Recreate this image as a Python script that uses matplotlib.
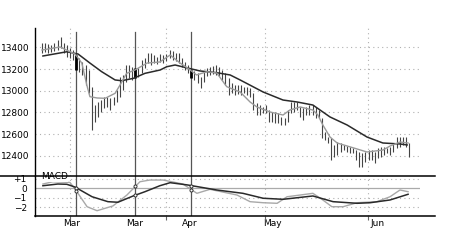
import matplotlib
matplotlib.use("Agg")
import matplotlib.pyplot as plt
from matplotlib.lines import Line2D
import numpy as np

plt.rcParams['font.family'] = ['DejaVu Sans']

# ---- data ----
highs = [13442, 13437, 13430, 13421, 13442, 13467, 13498, 13437, 13421, 13391,
         13375, 13329, 13299, 13267, 13237, 13191, 13037, 12868, 12899,
         12914, 12945, 12945, 12930, 12945, 13006, 13129, 13145, 13237,
         13237, 13221, 13206, 13206, 13283, 13299, 13345, 13347, 13329, 13311,
         13338, 13329, 13338, 13375, 13366, 13347, 13347, 13301, 13265,
         13237, 13191, 13182, 13163, 13126, 13172, 13209, 13218, 13228, 13237,
         13218, 13191, 13163, 13117, 13071, 13053, 13053, 13053, 13034, 13034,
         13025, 12979, 12887, 12868, 12850, 12868, 12822, 12804, 12804, 12795,
         12758, 12748, 12822, 12896, 12896, 12896, 12850, 12841, 12850, 12868,
         12868, 12850, 12822, 12748, 12619, 12573, 12564, 12500, 12527, 12518,
         12500, 12490, 12481, 12472, 12453, 12435, 12426, 12435, 12453, 12453,
         12435, 12472, 12481, 12481, 12472, 12481, 12518, 12573, 12573, 12573,
         12573, 12518]
lows = [13345, 13359, 13350, 13359, 13369, 13375, 13391, 13345, 13313, 13299,
        13283, 13191, 13175, 13145, 13053, 12976, 12638, 12714, 12760,
        12806, 12838, 12853, 12822, 12868, 12899, 12945, 13006, 13083,
        13114, 13099, 13114, 13129, 13160, 13206, 13253, 13237, 13255, 13246,
        13265, 13255, 13274, 13301, 13283, 13274, 13255, 13218, 13191,
        13163, 13117, 13099, 13071, 13025, 13080, 13135, 13145, 13154, 13145,
        13135, 13099, 13053, 12960, 12979, 12960, 12970, 12960, 12979, 12960,
        12942, 12822, 12776, 12776, 12795, 12795, 12712, 12712, 12702, 12702,
        12684, 12684, 12712, 12795, 12804, 12822, 12758, 12730, 12776, 12776,
        12776, 12748, 12748, 12564, 12546, 12518, 12361, 12389, 12407, 12435,
        12453, 12435, 12426, 12426, 12361, 12297, 12297, 12343, 12361, 12361,
        12334, 12380, 12389, 12407, 12426, 12407, 12435, 12472, 12481, 12500,
        12481, 12389]
event_bars = [11, 30, 48]

long_ma_idx = [0.3, 8.0, 11.6, 15.4, 19.2, 23.5, 25.6, 29.4, 33.1, 38.0, 40.1, 42.8,
               46.8, 50.8, 56.2, 60.5, 63.7, 71.1, 77.5, 82.0, 87.1, 89.4, 92.6, 98.1,
               104.5, 109.6, 115.1, 117.4]
long_ma = [13320, 13359, 13338, 13255, 13175, 13099, 13092, 13114, 13160, 13191,
           13221, 13237, 13209, 13182, 13166, 13145, 13099, 12988, 12914, 12896,
           12868, 12822, 12758, 12684, 12573, 12518, 12509, 12500]

short_ma_idx = [0, 5.8, 10.6, 12.8, 14.4, 15.4, 17.7, 20.3, 23.5, 25.1, 27.2, 29.9,
                33.8, 37.9, 41.2, 44.4, 46.8, 49.7, 53.0, 56.2, 59.4, 63.7, 66.9, 69.1,
                73.3, 77.5, 79.7, 83.0, 87.1, 88.7, 90.3, 92.6, 94.9, 99.2, 104.5,
                109.6, 111.9, 115.1, 117.7]
short_ma = [13375, 13403, 13338, 13255, 13053, 12945, 12933, 12930, 12976, 13053,
            13160, 13191, 13255, 13265, 13329, 13255, 13209, 13145, 13175, 13163,
            13037, 12988, 12896, 12850, 12804, 12776, 12822, 12850, 12822, 12776,
            12684, 12573, 12518, 12481, 12435, 12453, 12490, 12527, 12518]

macd_idx = [0.3, 5.1, 8.0, 10.6, 16.1, 21.2, 24.4, 29.3, 33.1, 37.9, 41.2, 46.8,
            56.2, 64.6, 71.1, 77.5, 87.1, 93.6, 101.3, 105.5, 111.9, 117.7]
macd = [0.24, 0.42, 0.39, 0.1, -0.92, -1.44, -1.5, -0.84, -0.39, 0.24, 0.56, 0.32,
        -0.21, -0.56, -1.08, -1.19, -0.84, -1.44, -1.61, -1.55, -1.26, -0.66]

signal_idx = [0.3, 3.5, 9.0, 10.6, 14.5, 17.7, 22.8, 27.3, 31.5, 34.7, 38.9, 45.3,
              49.8, 54.0, 62.7, 66.9, 71.1, 75.6, 78.8, 83.0, 87.1, 90.3, 93.2, 96.8,
              101.3, 107.7, 111.9, 115.1, 117.7]
signal = [0.42, 0.66, 0.58, -0.1, -1.97, -2.39, -1.89, -0.74, 0.66, 0.84, 0.84, 0.42,
          -0.56, -0.14, -0.74, -1.44, -1.55, -1.61, -0.92, -0.74, -0.56, -1.26, -1.97,
          -1.97, -1.55, -1.44, -0.92, -0.21, -0.39]

price_ticks = [12400, 12600, 12800, 13000, 13200, 13400]
macd_ticks = [1, 0, -1, -2]
macd_tick_labels = ['+1', '0', '\u22121', '\u22122']
month_pos = [9.6, 29.9, 47.6, 74.0, 108.0]
month_labels = ['Mar', 'Mar', 'Apr', 'May', 'Jun']
grid_pos = [9.0, 39.9, 71.7, 104.8]

# ---- layout ----
W, H = 470, 247
fig = plt.figure(figsize=(W / 100, H / 100), dpi=100)

def rect(x0, x1, ytop, ybot):
    return [x0 / W, (H - ybot) / H, (x1 - x0) / W, (ybot - ytop) / H]

n = len(highs)
s = 367 / (n - 1)
xl = (-7 / s, n - 1 + 11 / s)

ax = fig.add_axes(rect(35, 420, 28, 175.5))
ax2 = fig.add_axes(rect(35, 420, 175.5, 216))

grid_c = '#b0b0b0'
fs = 6.5

# main panel
idx = np.arange(n)
for y in price_ticks:
    ax.axhline(y, color=grid_c, lw=0.8, ls=(0, (1, 3)), zorder=0)
for g in grid_pos:
    ax.axvline(g, color=grid_c, lw=0.8, ls=(0, (1, 3)), zorder=0)
ax.vlines(idx, lows, highs, color='#444444', lw=0.8, zorder=2)
ax.vlines(event_bars, [lows[i] for i in event_bars], [highs[i] for i in event_bars],
          color='black', lw=2.0, zorder=3)
ax.plot(long_ma_idx, long_ma, color='#2a2a2a', lw=1.1, zorder=4)
ax.plot(short_ma_idx, short_ma, color='#9a9a9a', lw=1.0, zorder=4)
for e in event_bars:
    ax.axvline(e, color='#555555', lw=0.9, ymin=0, ymax=0.97, zorder=1)

ax.set_xlim(*xl)
ax.set_ylim(13836 - 9.217 * 175.5, 13836 - 9.217 * 28)
ax.set_yticks(price_ticks)
ax.set_yticklabels([str(t) for t in price_ticks], fontsize=fs)
ax.tick_params(axis='y', length=0, pad=4)
ax.set_xticks([])
for sp in ['top', 'right', 'bottom']:
    ax.spines[sp].set_visible(False)
ax.spines['left'].set_linewidth(1.0)

# MACD panel
for y in [1, -1, -2]:
    ax2.axhline(y, color=grid_c, lw=0.8, ls=(0, (1, 3)), zorder=0)
ax2.axhline(0, color='#aaaaaa', lw=0.9, zorder=0)
for g in grid_pos:
    ax2.axvline(g, color=grid_c, lw=0.8, ls=(0, (1, 3)), zorder=0)
for e in event_bars:
    ax2.axvline(e, color='#555555', lw=0.9, zorder=1)
ax2.plot(signal_idx, signal, color='#a8a8a8', lw=1.0, zorder=3)
ax2.plot(macd_idx, macd, color='#2a2a2a', lw=1.1, zorder=4)
# small markers where the event lines cross the MACD lines
ev = np.array(event_bars, dtype=float)
ax2.plot(ev, np.interp(ev, macd_idx, macd), 'o', ms=2.2, mfc='white',
         mec='#333333', mew=0.7, zorder=5)
ax2.plot(ev, np.interp(ev, signal_idx, signal), 'o', ms=2.2, mfc='white',
         mec='#333333', mew=0.7, zorder=5)
ax2.set_xlim(*xl)
ax2.set_ylim((188 - 216) / 9.5, (188 - 175.5) / 9.5)
ax2.set_yticks(macd_ticks)
ax2.set_yticklabels(macd_tick_labels, fontsize=fs)
ax2.tick_params(axis='y', length=0, pad=6)
ax2.set_xticks(month_pos)
ax2.set_xticklabels(month_labels, fontsize=fs)
ax2.tick_params(axis='x', which='major', length=0, pad=2)
ax2.set_xticks(grid_pos, minor=True)
ax2.tick_params(axis='x', which='minor', length=3, width=0.8, color='#666666')
for sp in ['top', 'right', 'bottom']:
    ax2.spines[sp].set_visible(False)
ax2.spines['left'].set_linewidth(1.0)
ax2.text(0.015, 0.98, 'MACD', transform=ax2.transAxes, fontsize=fs, va='center',
         ha='left', bbox=dict(facecolor='white', edgecolor='none', pad=0.5), zorder=6)

# separator lines
fig.add_artist(Line2D([0 / W, 435 / W], [(H - 175.5) / H] * 2, color='black', lw=1.1))
fig.add_artist(Line2D([35 / W, 435 / W], [(H - 216) / H] * 2, color='black', lw=1.1))

fig.savefig('out.png', dpi=100)
